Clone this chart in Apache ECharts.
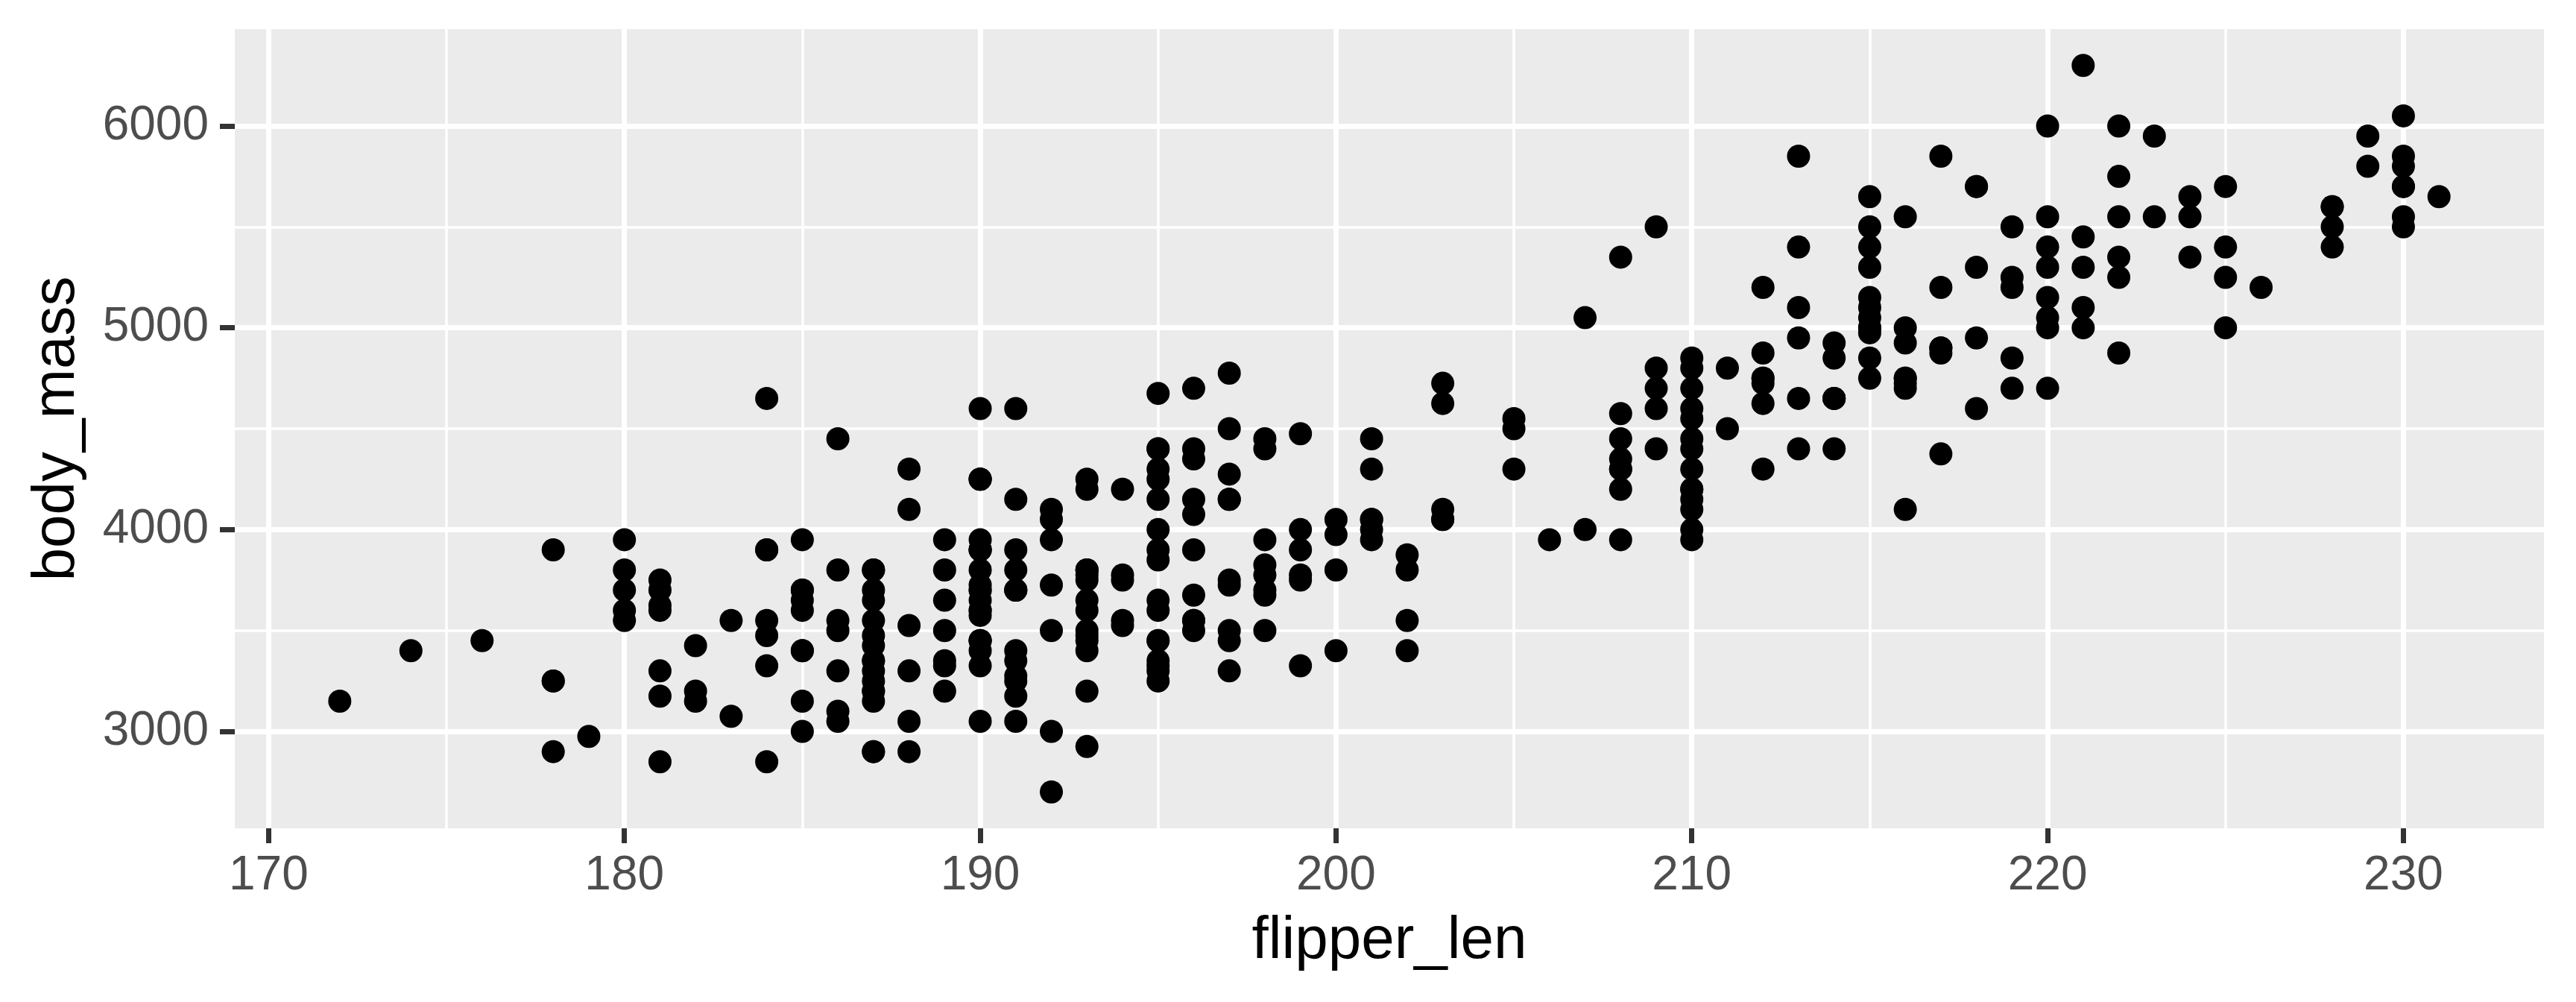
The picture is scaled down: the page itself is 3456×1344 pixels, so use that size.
<!DOCTYPE html>
<html>
<head>
<meta charset="utf-8">
<script src="https://cdn.jsdelivr.net/npm/echarts@6/dist/echarts.min.js"></script>
<style>
html,body{margin:0;padding:0;background:#ffffff;}
#chart{width:3456px;height:1344px;}
</style>
</head>
<body>
<div id="chart"></div>
<script>
// Palmer penguins: flipper length (mm) vs body mass (g)
const adelieFlipper = [
181,186,195,193,190,181,195,193,190,186,180,182,191,198,185,195,197,184,194,
174,180,189,185,180,187,183,187,172,180,
178,178,188,184,195,196,190,180,181,184,182,195,186,196,185,190,182,179,190,191,
186,188,190,200,187,191,186,193,181,194,185,195,185,192,184,192,195,188,
190,198,190,190,196,197,190,195,191,184,187,195,189,196,187,193,
191,194,190,189,189,190,202,205,185,186,187,208,190,196,178,192,
192,203,183,190,193,184,199,190,181,197,198,191,193,197,191,196,
188,199,189,189,187,198,176,202,186,199,191,195,191,210,190,197,
193,199,187,190,191,200,185,193,193,187,188,190,192,185,190,184,195,193,187,201];
const adelieMass = [
3750,3800,3250,3450,3650,3625,4675,3475,4250,3300,3700,3200,3800,4400,3700,3450,4500,3325,4200,
3400,3600,3800,3950,3800,3800,3550,3200,3150,3950,
3250,3900,3300,3900,3325,4150,3950,3550,3300,4650,3150,3900,3100,4400,3000,4600,3425,2975,3450,4150,
3500,4300,3450,4050,2900,3700,3550,3800,2850,3750,3150,4400,3600,4050,2850,3950,3350,4100,
3050,4450,3600,3900,3550,4150,3700,4250,3700,3900,3550,4000,3200,4700,3800,4200,
3350,3550,3800,3500,3950,3600,3550,4300,3400,4450,3300,4300,3700,4350,2900,4100,
3725,4725,3075,4250,2925,3550,3750,3900,3175,4775,3825,4600,3200,4275,3900,4075,
2900,3775,3350,3325,3150,3500,3450,3875,3050,4000,3275,4300,3050,4000,3325,3500,
3500,4475,3425,3900,3175,3975,3400,4250,3400,3475,3050,3725,3000,3650,4250,3475,3450,3750,3700,4000];

const gentooFlipper = [
211,230,210,218,215,210,211,219,209,215,
214,216,214,213,210,217,210,221,209,222,
218,215,213,215,215,215,216,215,210,220,
222,209,207,230,220,220,213,219,208,208,
208,225,210,216,222,217,210,225,213,215,
210,220,210,225,217,220,208,220,208,224,
208,221,214,231,219,230,214,229,220,223,
216,221,221,217,216,230,209,220,215,223,
212,221,212,224,212,228,218,218,212,230,
218,228,212,224,214,226,216,222,203,225,
219,228,215,228,216,215,210,219,208,209,
216,229,213,230,217,230,217,222,214,215,
222,212,213];
const gentooMass = [
4500,5700,4450,5700,5400,4550,4800,5200,4400,5150,
4650,5550,4650,5850,4200,5850,4150,6300,4800,5350,
5700,5000,4400,5050,5000,5100,4100,5650,4600,5550,
5250,4700,5050,6050,5150,5400,4950,5250,4350,5350,
3950,5700,4300,4750,5550,4900,4200,5400,5100,5300,
4850,5300,4400,5000,4900,5050,4300,5000,4450,5550,
4200,5300,4400,5650,4700,5700,4650,5800,4700,5550,
4750,5000,5100,5200,4700,5800,4600,6000,4750,5950,
4625,5450,4725,5350,4750,5600,4600,5300,4875,5550,
4950,5400,4750,5650,4850,5200,4925,4875,4625,5250,
4850,5600,4975,5500,4725,5500,4700,5500,4575,5500,
5000,5950,4650,5500,4375,5850,4875,6000,4925,4850,
5750,5200,5400];

const chinstrapFlipper = [
192,196,193,188,197,198,178,197,195,198,
193,194,185,201,190,201,197,181,190,195,
181,191,187,193,195,197,200,200,191,205,
187,201,187,203,195,199,195,210,192,205,
210,187,196,196,196,201,190,212,187,198,
199,201,193,203,187,197,191,203,202,194,
206,189,195,207,202,193,210,198];
const chinstrapMass = [
3500,3900,3650,3525,3725,3950,3250,3750,4150,3700,
3800,3775,3700,4050,3575,4050,3300,3700,3450,4400,
3600,3400,2900,3800,3300,4150,3400,3800,3700,4550,
3200,4300,3350,4100,3600,3900,3850,4800,2700,4500,
3950,3650,3550,3500,3675,4450,3400,4300,3250,3675,
3325,3950,3600,4050,3350,3450,3250,4050,3800,3525,
3950,3650,3650,4000,3400,3775,4100,3775];

const xMajorTicks = [170,180,190,200,210,220,230];
const xMinorTicks = [175,185,195,205,215,225];
const yMajorTicks = [3000,4000,5000,6000];
const yMinorTicks = [3500,4500,5500];
const xLimits = [169.05, 233.95];
const yLimits = [2520, 6480];

const FONT = '"Liberation Sans", Arial, Helvetica, sans-serif';

function pairs(xs, ys){ return xs.map((v,i)=>[v, ys[i]]); }
function plain(v){ return String(v); }

const chart = echarts.init(document.getElementById('chart'), null, {renderer:'canvas'});

const pointStyle = {
  type:'scatter', symbol:'circle', symbolSize:31,
  itemStyle:{color:'#000000', opacity:1},
  xAxisIndex:0, yAxisIndex:0, silent:true
};

chart.setOption({
  animation:false,
  backgroundColor:'#ffffff',
  grid:{
    left:315, top:39, width:3098, height:1072,
    show:true, backgroundColor:'#EBEBEB', borderWidth:0,
    containLabel:false, outerBoundsMode:'none'
  },
  xAxis:[
    {
      type:'value', min:xLimits[0], max:xLimits[1],
      axisLine:{show:false},
      axisTick:{show:true, customValues:xMajorTicks, length:20, lineStyle:{color:'#333333', width:7}},
      axisLabel:{show:true, customValues:xMajorTicks, formatter:plain, color:'#4D4D4D', fontSize:64, fontFamily:FONT, margin:32},
      splitLine:{show:true, lineStyle:{color:'#FFFFFF', width:7}},
      name:'flipper_len', nameLocation:'middle', nameGap:112,
      nameTextStyle:{color:'#000000', fontSize:80, fontFamily:FONT}
    },
    {
      type:'value', min:xLimits[0], max:xLimits[1], position:'bottom',
      axisLine:{show:false},
      axisTick:{show:false, customValues:xMinorTicks},
      axisLabel:{show:false, customValues:xMinorTicks},
      splitLine:{show:true, lineStyle:{color:'#FFFFFF', width:3.5}}
    }
  ],
  yAxis:[
    {
      type:'value', min:yLimits[0], max:yLimits[1],
      axisLine:{show:false},
      axisTick:{show:true, customValues:yMajorTicks, length:20, lineStyle:{color:'#333333', width:7}},
      axisLabel:{show:true, customValues:yMajorTicks, formatter:plain, color:'#4D4D4D', fontSize:64, fontFamily:FONT, margin:35},
      splitLine:{show:true, lineStyle:{color:'#FFFFFF', width:7}},
      name:'body_mass', nameLocation:'middle', nameRotate:90, nameGap:198,
      nameTextStyle:{color:'#000000', fontSize:80, fontFamily:FONT}
    },
    {
      type:'value', min:yLimits[0], max:yLimits[1], position:'left',
      axisLine:{show:false},
      axisTick:{show:false, customValues:yMinorTicks},
      axisLabel:{show:false, customValues:yMinorTicks},
      splitLine:{show:true, lineStyle:{color:'#FFFFFF', width:3.5}}
    }
  ],
  series:[
    Object.assign({name:'Adelie', data:pairs(adelieFlipper, adelieMass)}, pointStyle),
    Object.assign({name:'Gentoo', data:pairs(gentooFlipper, gentooMass)}, pointStyle),
    Object.assign({name:'Chinstrap', data:pairs(chinstrapFlipper, chinstrapMass)}, pointStyle)
  ]
});
</script>
</body>
</html>
